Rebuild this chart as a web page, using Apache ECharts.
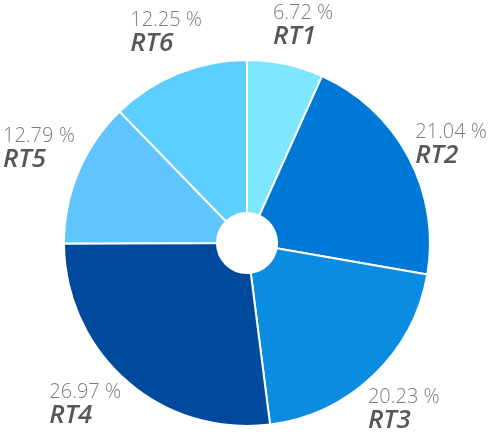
<!DOCTYPE html>
<html>
<head>
<meta charset="utf-8">
<style>
  html, body { margin: 0; padding: 0; background: #ffffff; }
  #chart { width: 490px; height: 435px; }
</style>
<script src="https://cdn.jsdelivr.net/npm/echarts@6/dist/echarts.min.js"></script>
</head>
<body>
<div id="chart"></div>
<script>
// Share of each route, in percent
const categories = ['RT1', 'RT2', 'RT3', 'RT4', 'RT5', 'RT6'];
const shares = [6.72, 21.04, 20.23, 26.97, 12.79, 12.25];
const colors = ['#7FE6FF', '#0078D7', '#0A8CE0', '#004A9E', '#60C4FE', '#5CCEFF'];

// Pie geometry
const CX = 247, CY = 243;
const R_INNER = 30, R_OUTER = 183;
const R_LABEL = 200;
const LABEL_TURN = 2 * Math.PI / 180;
const EDGE_MARGIN = 3;

const total = shares.reduce((a, b) => a + b, 0);
const startOf = [];
shares.reduce((acc, v, i) => { startOf[i] = acc; return acc + v; }, 0);

const chart = echarts.init(document.getElementById('chart'), null, { renderer: 'canvas' });

chart.setOption({
  backgroundColor: '#ffffff',
  animation: false,
  series: [{
    type: 'pie',
    center: [CX, CY],
    radius: [R_INNER, R_OUTER],
    startAngle: 90,
    clockwise: true,
    avoidLabelOverlap: false,
    itemStyle: { borderColor: '#ffffff', borderWidth: 2 },
    data: categories.map((name, i) => ({
      name: name,
      value: shares[i],
      itemStyle: { color: colors[i] }
    })),
    label: {
      show: true,
      position: 'outside',
      formatter: p => '{pct|' + p.value.toFixed(2) + ' %}\n{name|' + p.name + '}',
      rich: {
        pct: {
          fontFamily: '"Open Sans", "Noto Sans", sans-serif',
          fontWeight: 300,
          fontSize: 20,
          lineHeight: 21,
          color: '#7c7c7c',
          align: 'left'
        },
        name: {
          fontFamily: '"Open Sans", "Noto Sans", sans-serif',
          fontWeight: 600,
          fontStyle: 'italic',
          fontSize: 26,
          lineHeight: 26,
          color: '#575757',
          align: 'left'
        }
      }
    },
    labelLine: { show: false },
    // Each label block sits just outside its slice along the slice's mid direction,
    // kept inside the chart area horizontally
    labelLayout: function (p) {
      const i = p.dataIndex;
      const mid = (startOf[i] + shares[i] / 2) / total * Math.PI * 2 + LABEL_TURN;
      const s = Math.sin(mid), c = Math.cos(mid);
      const w = p.labelRect.width, h = p.labelRect.height;
      let x = CX + R_LABEL * s + (w / 2) * s;
      const y = CY - R_LABEL * c - (h / 2) * c;
      const W = chart.getWidth();
      x = Math.min(Math.max(x, EDGE_MARGIN + w / 2), W - EDGE_MARGIN - w / 2);
      return { x: x, y: y, align: 'center', verticalAlign: 'middle' };
    }
  }]
});
</script>
</body>
</html>
